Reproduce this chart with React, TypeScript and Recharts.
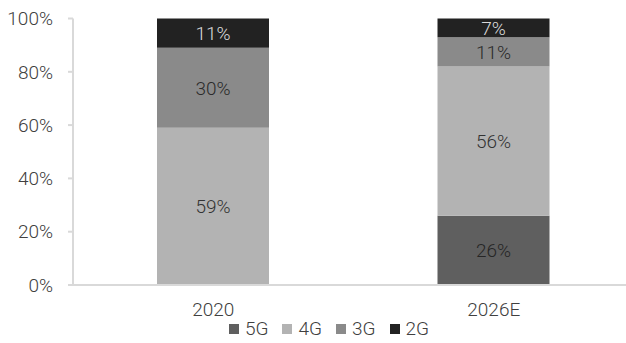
import React from 'react';
import { BarChart, Bar, XAxis, YAxis, Legend, LabelList } from 'recharts';

const categories = ['2020', '2026E'];
const share5G = [0, 26];
const share4G = [59, 56];
const share3G = [30, 11];
const share2G = [11, 7];
const yTicks = [0, 20, 40, 60, 80, 100];

const series = [
  { key: '5G', values: share5G, color: '#5f5f5f', text: '#262626' },
  { key: '4G', values: share4G, color: '#b3b3b3', text: '#333333' },
  { key: '3G', values: share3G, color: '#8a8a8a', text: '#2b2b2b' },
  { key: '2G', values: share2G, color: '#222222', text: '#d9d9d9' },
];

const data = categories.map((name, i) => {
  const row: Record<string, string | number | null> = { name };
  series.forEach((s) => {
    row[s.key] = s.values[i] > 0 ? s.values[i] : null;
  });
  return row;
});

const FONT = 'Roboto, "DejaVu Sans Condensed", sans-serif';

const renderLegend = () => (
  <div
    style={{
      display: 'flex',
      justifyContent: 'center',
      gap: 14,
      paddingLeft: 24,
      fontFamily: FONT,
      fontWeight: 300,
      fontSize: 19,
      color: '#404040',
      lineHeight: '28px',
    }}
  >
    {series.map((s) => (
      <div key={s.key} style={{ display: 'flex', alignItems: 'center', gap: 6 }}>
        <div style={{ width: 10, height: 10, backgroundColor: s.color }} />
        <span>{s.key}</span>
      </div>
    ))}
  </div>
);

export default function App() {
  return (
    <div style={{ position: 'absolute', left: 0, top: 0, background: '#fff' }}>
      <BarChart
        width={626}
        height={343}
        data={data}
        margin={{ top: 18.5, right: -8, bottom: 0, left: 0 }}
        style={{ fontFamily: FONT, fontWeight: 300 }}
      >
        <XAxis
          dataKey='name'
          tickLine={false}
          tickSize={6}
          tickMargin={12}
          height={30}
          axisLine={{ stroke: '#d9d9d9', strokeWidth: 2 }}
          tick={{ fontSize: 19, fill: '#404040', fontWeight: 300 }}
        />
        <YAxis
          width={73}
          domain={[0, 100]}
          ticks={yTicks}
          interval={0}
          tickFormatter={(v: number) => `${v}%`}
          tickSize={5}
          tickMargin={15}
          axisLine={{ stroke: '#d9d9d9', strokeWidth: 2 }}
          tickLine={{ stroke: '#d9d9d9', strokeWidth: 2 }}
          tick={{ fontSize: 19, fill: '#404040', fontWeight: 300 }}
        />
        <Legend verticalAlign='bottom' height={28} content={renderLegend} />
        {series.map((s) => (
          <Bar
            key={s.key}
            dataKey={s.key}
            stackId='a'
            fill={s.color}
            barSize={112}
            isAnimationActive={false}
          >
            <LabelList
              dataKey={s.key}
              position='center'
              formatter={(v: number) => `${v}%`}
              style={{ fontSize: 19, fill: s.text, fontFamily: FONT, fontWeight: 300 }}
            />
          </Bar>
        ))}
      </BarChart>
    </div>
  );
}
